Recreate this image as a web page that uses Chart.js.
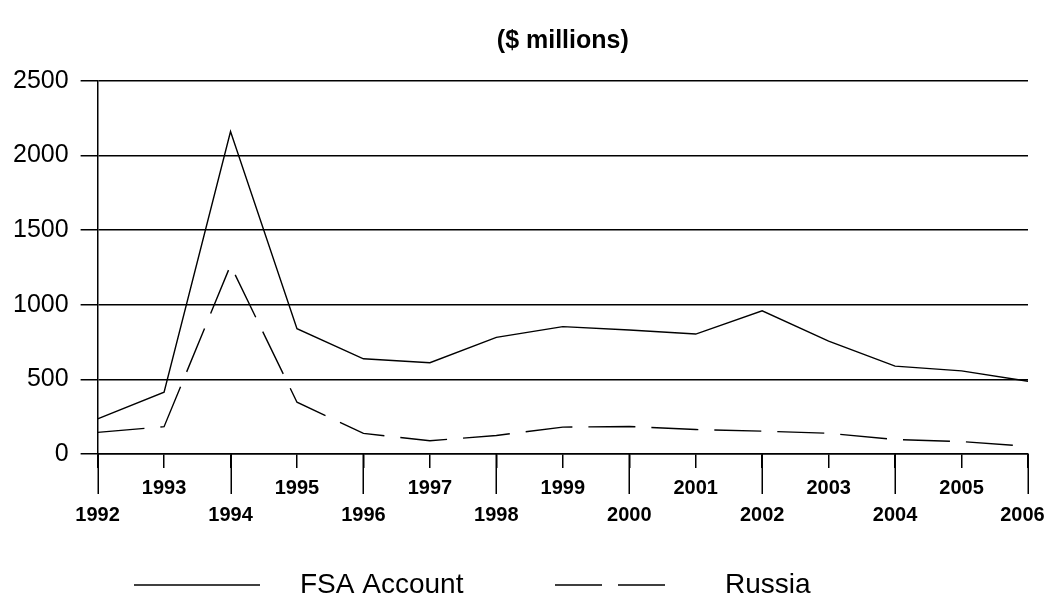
<!DOCTYPE html>
<html>
<head>
<meta charset="utf-8">
<script src="https://cdn.jsdelivr.net/npm/chart.js@4.4.0/dist/chart.umd.min.js"></script>
<style>
  html, body { margin: 0; padding: 0; background: #fff; overflow: hidden; }
  #wrap { width: 1044px; height: 605px; }
</style>
</head>
<body>
<div id="wrap"><canvas id="chart" width="1044" height="605"></canvas></div>
<script>
const years = ['1992', '1993', '1994', '1995', '1996', '1997', '1998', '1999',
               '2000', '2001', '2002', '2003', '2004', '2005', '2006'];
const fsaAccount = [235, 414, 2161, 840, 638, 612, 782, 854, 831, 804, 960, 757, 589, 557, 488];
const russia = [145, 183, 1265, 347, 138, 89, 124, 180, 184, 164, 153, 139, 97, 83, 52];
const yTicks = [0, 500, 1000, 1500, 2000, 2500];
const seriesNames = ['FSA Account', 'Russia'];

const FONT = "'Liberation Sans', Arial, sans-serif";
const russiaDash = [47, 16];

// legend drawn by hand, the original leaves wide gaps between line and text
const lineLegend = {
    id: 'lineLegend',
    afterDraw(chart) {
        const ctx = chart.ctx;
        const spots = [
            { x0: 134, x1: 260, tx: 300 },
            { x0: 555, x1: 665, tx: 725 }
        ];
        const y = 585;
        ctx.save();
        chart.data.datasets.forEach((ds, i) => {
            const s = spots[i];
            ctx.strokeStyle = ds.borderColor;
            ctx.lineWidth = 1.5;
            ctx.setLineDash(ds.borderDash || []);
            ctx.beginPath();
            ctx.moveTo(s.x0, y);
            ctx.lineTo(s.x1, y);
            ctx.stroke();
            ctx.setLineDash([]);
            ctx.fillStyle = '#000';
            ctx.font = '28px ' + FONT;
            ctx.textBaseline = 'middle';
            ctx.fillText(ds.label, s.tx, y);
        });
        ctx.restore();
    }
};

// even years have a long tick reaching down to the second label row
const longTicks = {
    id: 'longTicks',
    afterDraw(chart) {
        const x = chart.scales.x;
        const ctx = chart.ctx;
        ctx.save();
        ctx.strokeStyle = '#000';
        ctx.lineWidth = 1.5;
        x.ticks.forEach((t, i) => {
            if (i % 2) return;
            const px = Math.round(x.getPixelForTick(i)) + 0.25;
            ctx.beginPath();
            ctx.moveTo(px, x.top);
            ctx.lineTo(px, x.top + 40);
            ctx.stroke();
        });
        ctx.restore();
    }
};

const chart = new Chart(document.getElementById('chart'), {
    type: 'line',
    data: {
        labels: years,
        datasets: [
            {
                label: seriesNames[0],
                data: fsaAccount,
                borderColor: '#000',
                borderWidth: 1.4,
                pointRadius: 0,
                tension: 0,
                fill: false
            },
            {
                label: seriesNames[1],
                data: russia,
                borderColor: '#000',
                borderWidth: 1.4,
                borderDash: russiaDash,
                pointRadius: 0,
                tension: 0,
                fill: false
            }
        ]
    },
    options: {
        responsive: false,
        animation: false,
        layout: { padding: { left: 1, right: 16, top: 0, bottom: 69 } },
        plugins: {
            legend: { display: false },
            tooltip: { enabled: false },
            title: {
                display: true,
                text: '($ millions)',
                fullSize: false,
                color: '#000',
                font: { family: FONT, size: 25, weight: 'bold', lineHeight: 1 },
                padding: { top: 29, bottom: 27 }
            }
        },
        scales: {
            x: {
                grid: {
                    drawOnChartArea: false,
                    color: '#000',
                    lineWidth: 1.5,
                    tickLength: 14
                },
                border: { color: '#000', width: 1.5 },
                ticks: {
                    autoSkip: false,
                    maxRotation: 0,
                    padding: 7,
                    color: '#000',
                    font: { family: FONT, size: 20, weight: 'bold', lineHeight: 1.35 },
                    callback: function(v, i) {
                        let t = this.getLabelForValue(v);
                        // last label sits a little inside the edge, as in the source
                        if (i === years.length - 1) t += '\u2007';
                        return i % 2 ? t : ['', t];
                    }
                },
                afterFit: s => { s.paddingLeft = 0; s.paddingRight = 0; }
            },
            y: {
                min: 0,
                max: 2500,
                afterBuildTicks: s => { s.ticks = yTicks.map(v => ({ value: v })); },
                ticks: {
                    padding: 12,
                    color: '#000',
                    font: { family: FONT, size: 25 },
                    callback: v => String(v)
                },
                grid: { color: '#000', lineWidth: 1.5, tickLength: 17 },
                border: { color: '#000', width: 1.5 }
            }
        }
    },
    plugins: [lineLegend, longTicks]
});
</script>
</body>
</html>
